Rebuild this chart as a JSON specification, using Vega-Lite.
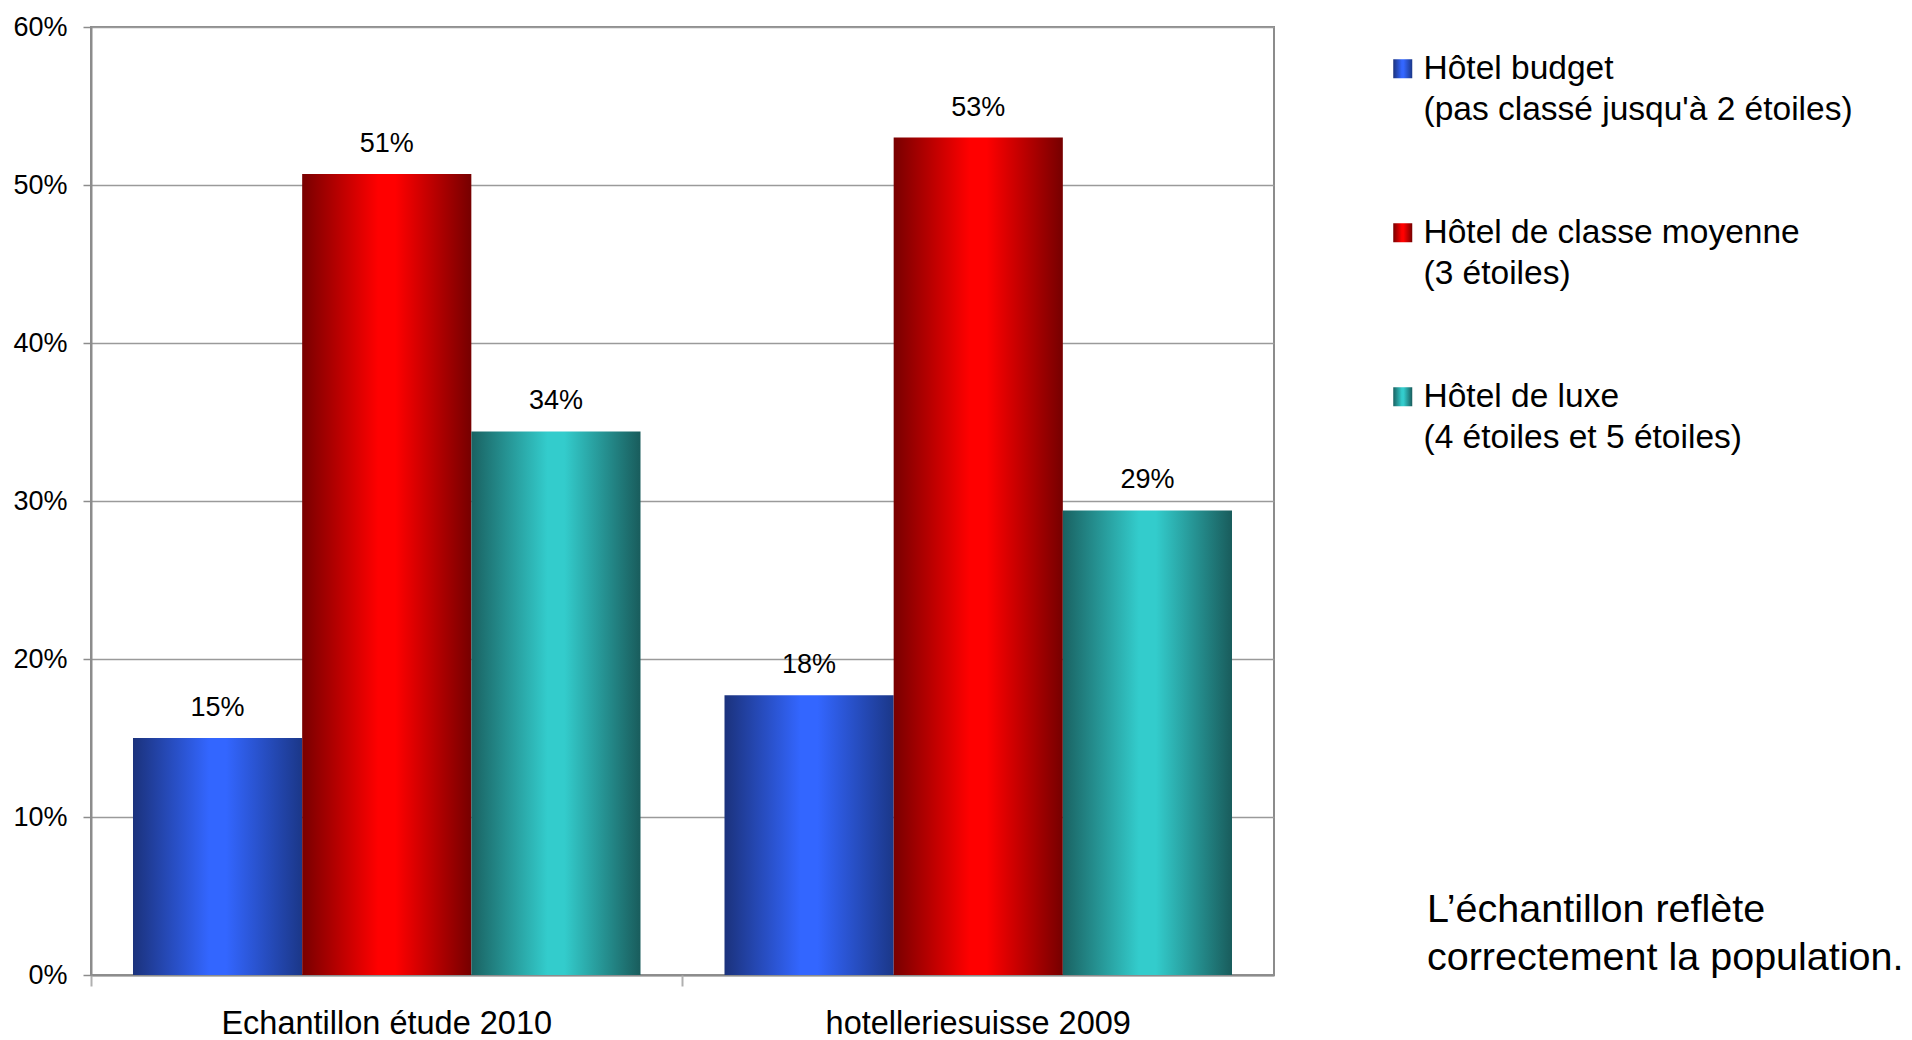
{
  "$schema": "https://vega.github.io/schema/vega-lite/v6.json",
  "width": 1183,
  "height": 948,
  "autosize": {"type": "none"},
  "padding": {"left": 91, "top": 27, "right": 638, "bottom": 65},
  "background": "white",
  "title": {
    "text": ["L’échantillon reflète", "correctement la population."],
    "orient": "top",
    "anchor": "end",
    "frame": "group",
    "align": "left",
    "baseline": "top",
    "dx": 153,
    "dy": 969,
    "font": "Liberation Sans",
    "fontSize": 39.5,
    "fontWeight": "normal",
    "color": "#000000",
    "lineHeight": 48
  },
  "data": {
    "values": [
      {"source": "Echantillon étude 2010", "hotel": "Hôtel budget|(pas classé jusqu'à 2 étoiles)", "part": 0.15},
      {"source": "Echantillon étude 2010", "hotel": "Hôtel de classe moyenne|(3 étoiles)", "part": 0.507},
      {"source": "Echantillon étude 2010", "hotel": "Hôtel de luxe|(4 étoiles et 5 étoiles)", "part": 0.344},
      {"source": "hotelleriesuisse 2009", "hotel": "Hôtel budget|(pas classé jusqu'à 2 étoiles)", "part": 0.177},
      {"source": "hotelleriesuisse 2009", "hotel": "Hôtel de classe moyenne|(3 étoiles)", "part": 0.53},
      {"source": "hotelleriesuisse 2009", "hotel": "Hôtel de luxe|(4 étoiles et 5 étoiles)", "part": 0.294}
    ]
  },
  "encoding": {
    "xOffset": {
      "field": "hotel",
      "type": "nominal",
      "sort": [
        "Hôtel budget|(pas classé jusqu'à 2 étoiles)",
        "Hôtel de classe moyenne|(3 étoiles)",
        "Hôtel de luxe|(4 étoiles et 5 étoiles)"
      ],
      "scale": {"paddingInner": 0, "paddingOuter": 0}
    },
    "y": {
      "field": "part",
      "type": "quantitative",
      "scale": {"domain": [0, 0.6], "nice": false},
      "title": null,
      "axis": {
        "values": [0, 0.1, 0.2, 0.3, 0.4, 0.5, 0.6],
        "format": ".0%",
        "labelFont": "Liberation Sans",
        "labelFontSize": 27,
        "labelColor": "#000000",
        "labelPadding": 16,
        "tickSize": 8,
        "tickColor": "#8c8c8c",
        "tickWidth": 1.5,
        "domainColor": "#8c8c8c",
        "domainWidth": 2,
        "gridColor": "#9a9a9a",
        "gridWidth": 1.5
      }
    }
  },
  "layer": [
    {
      "mark": {"type": "bar"},
      "encoding": {
        "x": {
          "field": "source",
          "type": "nominal",
          "sort": ["Echantillon étude 2010", "hotelleriesuisse 2009"],
          "scale": {"paddingInner": 0.142, "paddingOuter": 0.071},
          "title": null,
          "axis": {
            "orient": "bottom",
            "labelAngle": 0,
            "labelFont": "Liberation Sans",
            "labelFontSize": 32.5,
            "labelColor": "#000000",
            "labelLimit": 800,
            "labelPadding": 32,
            "ticks": false,
            "domainColor": "#8c8c8c",
            "domainWidth": 2,
            "grid": false
          }
        },
        "color": {
          "field": "hotel",
          "type": "nominal",
          "scale": {
            "domain": [
              "Hôtel budget|(pas classé jusqu'à 2 étoiles)",
              "Hôtel de classe moyenne|(3 étoiles)",
              "Hôtel de luxe|(4 étoiles et 5 étoiles)"
            ],
            "range": [
              {"expr": "{gradient: 'linear', x1: 0, y1: 0, x2: 1, y2: 0, stops: [{offset: 0, color: '#1b327c'}, {offset: 0.45, color: '#3366ff'}, {offset: 0.55, color: '#3366ff'}, {offset: 1, color: '#1b3788'}]}"},
              {"expr": "{gradient: 'linear', x1: 0, y1: 0, x2: 1, y2: 0, stops: [{offset: 0, color: '#780000'}, {offset: 0.45, color: '#ff0000'}, {offset: 0.55, color: '#ff0000'}, {offset: 1, color: '#760000'}]}"},
              {"expr": "{gradient: 'linear', x1: 0, y1: 0, x2: 1, y2: 0, stops: [{offset: 0, color: '#1a6262'}, {offset: 0.45, color: '#33cccc'}, {offset: 0.55, color: '#33cccc'}, {offset: 1, color: '#195c5c'}]}"}
            ]
          },
          "legend": {
            "title": null,
            "orient": "none",
            "legendX": 1295,
            "legendY": 25,
            "padding": 0,
            "symbolType": "square",
            "symbolSize": 361,
            "symbolStrokeWidth": 0,
            "labelOffset": 4,
            "labelFont": "Liberation Sans",
            "labelFontSize": 33.5,
            "labelColor": "#000000",
            "labelBaseline": "middle",
            "labelLimit": 600,
            "labelExpr": "split(datum.label, '|')",
            "rowPadding": 88
          }
        }
      }
    },
    {
      "mark": {
        "type": "text",
        "baseline": "middle",
        "dy": -30,
        "font": "Liberation Sans",
        "fontSize": 27,
        "color": "#000000"
      },
      "encoding": {
        "x": {
          "field": "source",
          "type": "nominal",
          "sort": ["Echantillon étude 2010", "hotelleriesuisse 2009"],
          "title": null,
          "axis": {
            "orient": "bottom",
            "labels": false,
            "domain": false,
            "grid": false,
            "bandPosition": 0,
            "tickOffset": -42,
            "tickSize": 11,
            "tickColor": "#b0b0b0",
            "tickWidth": 2
          }
        },
        "text": {"field": "part", "type": "quantitative", "format": ".0%"}
      }
    }
  ],
  "resolve": {"axis": {"x": "independent"}},
  "config": {
    "view": {"stroke": "#8c8c8c", "strokeWidth": 2},
    "style": {"guide-label": {"lineHeight": 41}}
  }
}
